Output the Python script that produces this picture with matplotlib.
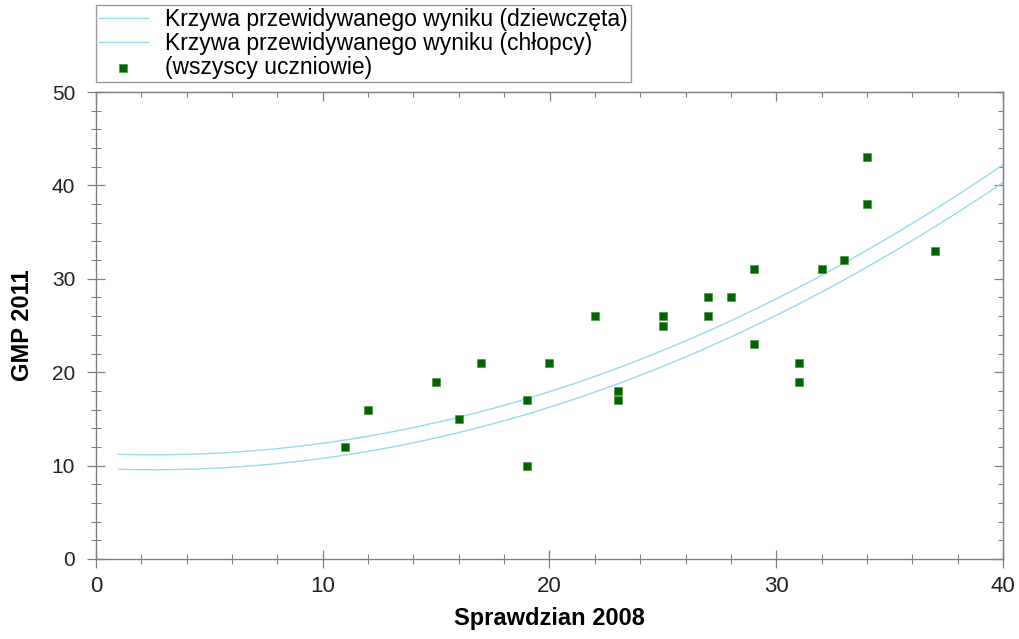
import numpy as np
import matplotlib
matplotlib.use("Agg")
import matplotlib.pyplot as plt
from matplotlib.ticker import MultipleLocator

plt.rcParams['font.family'] = ['Liberation Sans', 'DejaVu Sans']

# wyniki uczniow: sprawdzian 2008 -> GMP 2011
sprawdzian = [11, 12, 15, 16, 17, 19, 19, 20, 22, 23, 23, 25, 25, 27, 27,
              28, 29, 29, 31, 31, 32, 33, 34, 34, 37]
gmp = [12, 16, 19, 15, 21, 17, 10, 21, 26, 18, 17, 26, 25, 28, 26,
       28, 31, 23, 21, 19, 31, 32, 43, 38, 33]

# krzywe przewidywanego wyniku: a + b*x + c*x^2
coef_dziewczeta = [11.29, -0.1104, 0.02208]
coef_chlopcy = [9.69, -0.1094, 0.02187]
zakres_x = [1, 40]

legend_labels = ["Krzywa przewidywanego wyniku (dziewczęta)",
                 "Krzywa przewidywanego wyniku (chłopcy)",
                 "(wszyscy uczniowie)"]

curve_color = "#96dcec"
point_color = "#006400"
axis_color = "#808080"

fig = plt.figure(figsize=(10.2, 6.39), dpi=100)
ax = fig.add_axes([96 / 1020, 80 / 639, 907 / 1020, 467 / 639])

xs = np.linspace(zakres_x[0], zakres_x[1], 200)
for coef, lab in [(coef_dziewczeta, legend_labels[0]), (coef_chlopcy, legend_labels[1])]:
    ys = coef[0] + coef[1] * xs + coef[2] * xs ** 2
    ax.plot(xs, ys, color=curve_color, lw=1.0, label=lab)

ax.scatter(sprawdzian, gmp, marker='s', s=28, color=point_color,
           edgecolors="#3a8a3a", linewidths=0.4, label=legend_labels[2], zorder=3)

ax.set_xlim(0, 40)
ax.set_ylim(0, 50)
ax.xaxis.set_major_locator(MultipleLocator(10))
ax.xaxis.set_minor_locator(MultipleLocator(2))
ax.yaxis.set_major_locator(MultipleLocator(10))
ax.yaxis.set_minor_locator(MultipleLocator(2))

for s in ax.spines.values():
    s.set_color(axis_color)
    s.set_linewidth(1.0)

ax.tick_params(which='major', axis='both', direction='inout', length=13, width=0.9,
               color=axis_color, labelsize=15, labelcolor='#222222')
ax.tick_params(which='minor', axis='both', direction='inout', length=6.5, width=0.8,
               color=axis_color)
ax.tick_params(axis='y', which='major', pad=8.5)
ax.tick_params(axis='x', which='major', pad=6, labelsize=16)

# ticks inward on top and right
top = ax.secondary_xaxis('top')
right = ax.secondary_yaxis('right')
for sec, axis in [(top, top.xaxis), (right, right.yaxis)]:
    axis.set_major_locator(MultipleLocator(10))
    axis.set_minor_locator(MultipleLocator(2))
    sec.tick_params(which='major', direction='in', length=6.5, width=0.9,
                    color=axis_color, labelleft=False, labelright=False,
                    labeltop=False, labelbottom=False)
    sec.tick_params(which='minor', direction='in', length=3.6, width=0.8,
                    color=axis_color)
    for s in sec.spines.values():
        s.set_color(axis_color)

ax.set_xlabel("Sprawdzian 2008", fontsize=17, fontweight='bold')
ax.set_ylabel("GMP 2011", fontsize=17, fontweight='bold')
ax.xaxis.set_label_coords(0.5, -0.103)
ax.yaxis.set_label_coords(-0.068, 0.5)

leg = fig.legend(loc='upper left', bbox_to_anchor=(96 / 1020, 1 - 5 / 639),
                 fontsize=16.5, frameon=True, fancybox=False, handlelength=2.15,
                 borderpad=0.12, labelspacing=0.05, handletextpad=0.75,
                 borderaxespad=0, scatterpoints=1)
leg.get_frame().set_edgecolor(axis_color)
leg.get_frame().set_linewidth(1.0)

fig.savefig("out.png", dpi=100)
